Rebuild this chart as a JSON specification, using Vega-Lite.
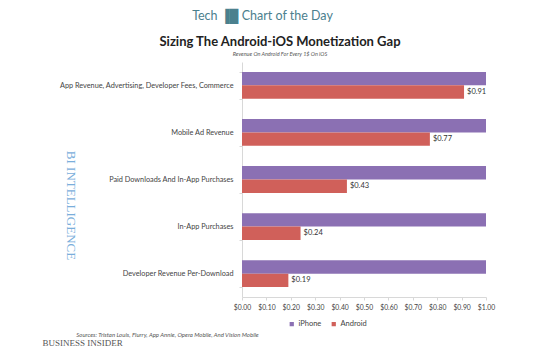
{
  "$schema": "https://vega.github.io/schema/vega-lite/v6.json",
  "autosize": "none",
  "padding": {"left": 242, "top": 62, "right": 74, "bottom": 53},
  "width": 244,
  "height": 235,
  "background": "white",
  "title": {
    "text": "Sizing The Android-iOS Monetization Gap",
    "subtitle": "Revenue On Android For Every 1$ On iOS",
    "font": "Lato", "fontSize": 13, "fontWeight": "bold", "color": "#222222",
    "subtitleFont": "Lato", "subtitleFontSize": 5.5, "subtitleFontStyle": "italic", "subtitleColor": "#555555",
    "anchor": "middle", "dx": -84, "offset": -48, "subtitlePadding": 3
  },
  "data": {
    "values": [
      {"category": "App Revenue, Advertising, Developer Fees, Commerce", "series": "iPhone", "value": 1.0},
      {"category": "App Revenue, Advertising, Developer Fees, Commerce", "series": "Android", "value": 0.91},
      {"category": "Mobile Ad Revenue", "series": "iPhone", "value": 1.0},
      {"category": "Mobile Ad Revenue", "series": "Android", "value": 0.77},
      {"category": "Paid Downloads And In-App Purchases", "series": "iPhone", "value": 1.0},
      {"category": "Paid Downloads And In-App Purchases", "series": "Android", "value": 0.43},
      {"category": "In-App Purchases", "series": "iPhone", "value": 1.0},
      {"category": "In-App Purchases", "series": "Android", "value": 0.24},
      {"category": "Developer Revenue Per-Download", "series": "iPhone", "value": 1.0},
      {"category": "Developer Revenue Per-Download", "series": "Android", "value": 0.19}
    ]
  },
  "layer": [
    {
      "mark": {"type": "bar"},
      "encoding": {
        "y": {
          "field": "category", "type": "nominal", "sort": null,
          "scale": {"paddingInner": 0.43, "paddingOuter": 0.21},
          "axis": {
            "orient": "left", "title": "BI INTELLIGENCE", "titleAngle": 90,
            "titleX": -172, "titleY": 143, "titleAlign": "center", "titleBaseline": "middle",
            "titleFont": "Liberation Serif", "titleFontSize": 13, "titleFontWeight": "normal", "titleColor": "#7aaedb",
            "labelFont": "Lato", "labelFontSize": 7.3, "labelColor": "#444444", "labelLimit": 260, "labelPadding": 6,
            "domainColor": "#d8d8d8", "ticks": true, "tickBand": "extent", "tickSize": 3, "tickColor": "#d8d8d8"
          }
        },
        "yOffset": {"field": "series", "type": "nominal", "sort": ["iPhone", "Android"], "scale": {"paddingInner": 0, "paddingOuter": 0}},
        "x": {
          "field": "value", "type": "quantitative", "scale": {"domain": [0, 1]},
          "axis": {
            "orient": "bottom", "format": "$.2f", "values": [0, 0.1, 0.2, 0.3, 0.4, 0.5, 0.6, 0.7, 0.8, 0.9, 1.0],
            "labelOverlap": false, "labelBound": false, "labelFlush": false,
            "grid": false, "domainColor": "#d8d8d8", "tickColor": "#d8d8d8", "tickSize": 3,
            "labelFont": "Lato", "labelFontSize": 6.8, "labelColor": "#444444", "labelPadding": 4,
            "title": "Sources: Tristan Louis, Flurry, App Annie, Opera Mobile, And Vision Mobile",
            "titleX": -75, "titleY": 37, "titleAlign": "center", "titleBaseline": "middle",
            "titleFont": "Lato", "titleFontSize": 6, "titleFontStyle": "italic", "titleFontWeight": "normal", "titleColor": "#555555"
          }
        },
        "color": {
          "field": "series", "type": "nominal",
          "scale": {"domain": ["iPhone", "Android"], "range": ["#8b70b3", "#d0605a"]},
          "legend": {
            "orient": "none", "legendX": 46, "legendY": 258, "direction": "horizontal", "title": null,
            "symbolType": "square", "symbolSize": 18, "symbolStrokeWidth": 0,
            "labelFont": "Lato", "labelFontSize": 7.5, "labelColor": "#444444", "columnPadding": 8, "labelOffset": 3
          }
        }
      }
    },
    {
      "transform": [{"filter": "datum.series === 'Android'"}],
      "mark": {"type": "text", "align": "left", "baseline": "middle", "dx": 3, "font": "Lato", "fontSize": 7.5, "color": "#333333"},
      "encoding": {
        "y": {
          "field": "category", "type": "nominal", "sort": null,
          "axis": {
            "orient": "right", "labels": false, "ticks": false, "domain": false, "grid": false,
            "title": "BUSINESS INSIDER", "titleAngle": 0, "titleX": -404, "titleY": 280,
            "titleAlign": "center", "titleBaseline": "middle",
            "titleFont": "Liberation Serif", "titleFontSize": 9, "titleFontWeight": "normal", "titleColor": "#555555"
          }
        },
        "yOffset": {"field": "series", "type": "nominal", "sort": ["iPhone", "Android"]},
        "x": {
          "field": "value", "type": "quantitative",
          "axis": {
            "orient": "top", "labels": false, "ticks": false, "domain": false, "grid": false,
            "title": "Tech  \u2590\u2588  Chart of the Day", "titleX": 20, "titleY": -47,
            "titleAlign": "center", "titleBaseline": "middle",
            "titleFont": "Lato", "titleFontSize": 12.5, "titleFontWeight": "normal", "titleColor": "#4b808e"
          }
        },
        "text": {"field": "value", "type": "quantitative", "format": "$.2f"}
      }
    }
  ],
  "resolve": {"axis": {"x": "independent", "y": "independent"}},
  "config": {"view": {"stroke": null}}
}
